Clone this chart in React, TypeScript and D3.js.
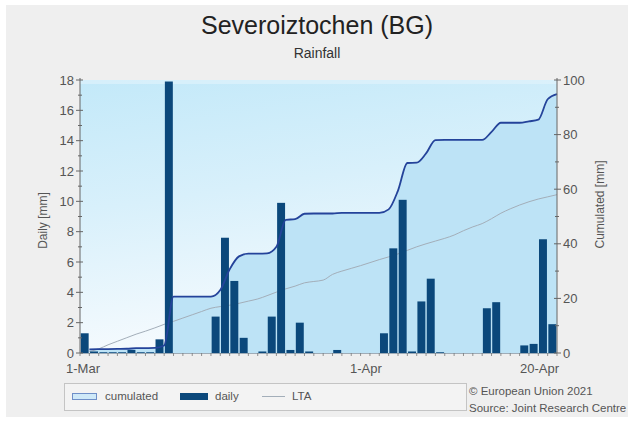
import React from "react";
import * as d3 from "d3";

// ---- data ----
const startDate = new Date(2021, 2, 1);
const endDate = new Date(2021, 3, 21);
const dates: Date[] = d3.timeDay.range(startDate, endDate); // 1-Mar .. 20-Apr (51 days)

const daily: number[] = [
  1.3, 0.1, 0.05, 0.05, 0.05, 0.2, 0.05, 0.05, 0.9, 17.9,
  0, 0, 0, 0, 2.4, 7.6, 4.75, 1.0, 0, 0.1,
  2.4, 9.9, 0.2, 2.0, 0.1, 0, 0, 0.2, 0, 0,
  0, 0, 1.3, 6.9, 10.1, 0.1, 3.4, 4.9, 0.05, 0,
  0, 0, 0, 2.95, 3.35, 0, 0, 0.5, 0.6, 7.5,
  1.9,
];

const lta: number[] = [
  0.5, 1.5, 3.0, 4.3, 5.6, 6.9, 8.0, 9.2, 10.5, 11.6,
  12.8, 14.0, 15.2, 16.4, 17.0, 17.5, 18.2, 19.0, 19.8, 21.0,
  22.3, 23.5, 24.5, 25.7, 26.2, 26.7, 28.8, 30.0, 31.0, 32.0,
  33.1, 34.2, 35.2, 36.3, 37.6, 38.9, 40.0, 41.0, 42.0, 43.2,
  44.8, 46.2, 47.4, 49.2, 51.2, 52.8, 54.2, 55.4, 56.4, 57.2,
  58.0,
];

const cumulated: number[] = Array.from(d3.cumsum(daily));

const leftTicks = [0, 2, 4, 6, 8, 10, 12, 14, 16, 18];
const rightTicks = [0, 20, 40, 60, 80, 100];
const xLabelDays = ["2021-03-01", "2021-04-01", "2021-04-20"];
const xLabelText = ["1-Mar", "1-Apr", "20-Apr"];

const title = "Severoiztochen (BG)";
const subtitle = "Rainfall";
const leftTitle = "Daily [mm]";
const rightTitle = "Cumulated [mm]";
const legendLabels = ["cumulated", "daily", "LTA"];
const credits = ["© European Union 2021", "Source: Joint Research Centre"];

// ---- layout ----
const W = 628;
const H = 421;
const PL = 80;
const PR = 557;
const PT = 80;
const PB = 353;
const FONT = "'Liberation Sans', Arial, sans-serif";

export default function App() {
  const n = dates.length;
  const x = d3.scaleLinear().domain([0, n]).range([PL, PR]);
  const yL = d3.scaleLinear().domain([0, 18]).range([PB, PT]);
  const yR = d3.scaleLinear().domain([0, 100]).range([PB, PT]);
  const dayIndex = (s: string) =>
    d3.timeDay.count(startDate, d3.timeParse("%Y-%m-%d")(s) as Date);

  const cumLine = d3
    .line<number>()
    .x((_, i) => x(i + 1))
    .y((d) => yR(d))
    .curve(d3.curveMonotoneX);
  const cumArea = d3
    .area<number>()
    .x((_, i) => x(i + 1))
    .y0(PB)
    .y1((d) => yR(d))
    .curve(d3.curveMonotoneX);
  const ltaLine = d3
    .line<number>()
    .x((_, i) => x(i + 1))
    .y((d) => yR(d))
    .curve(d3.curveMonotoneX);

  const gap = 0.7;
  const minorLeft = d3.range(1, 18, 2);
  const minorRight = d3.range(10, 100, 20);

  return (
    <svg
      width={W}
      height={H}
      style={{ position: "absolute", left: 0, top: 0, fontFamily: FONT }}
    >
      <defs>
        <linearGradient id="bg" x1="0" y1="0" x2="0.25" y2="1">
          <stop offset="0" stopColor="#c3e9f9" />
          <stop offset="0.45" stopColor="#d8f0fb" />
          <stop offset="1" stopColor="#f7fbfe" />
        </linearGradient>
      </defs>
      <rect x={0} y={0} width={W} height={H} fill="#ffffff" />
      <rect x={6} y={5} width={W - 6} height={H - 9} fill="#efefef" />

      <text x={317} y={34} textAnchor="middle" fontSize={25} fill="#222">
        {title}
      </text>
      <text x={317} y={58} textAnchor="middle" fontSize={14} fill="#333">
        {subtitle}
      </text>

      {/* plot background */}
      <rect x={PL} y={PT} width={PR - PL} height={PB - PT} fill="url(#bg)" />
      <rect x={PL} y={PT} width={PR - PL} height={4} fill="#e2f4fc" opacity={0.6} />
      <path d={cumArea(cumulated) || ""} fill="#bde3f6" />
      <path d={ltaLine(lta) || ""} fill="none" stroke="#a3aeb9" strokeWidth={1} />

      {daily.map((v, i) => (
        <rect
          key={i}
          x={x(i) + gap}
          y={yL(v)}
          width={x(i + 1) - x(i) - 2 * gap}
          height={PB - yL(v)}
          fill="#0b487b"
        />
      ))}

      <path
        d={cumLine(cumulated) || ""}
        fill="none"
        stroke="#24439a"
        strokeWidth={1.8}
      />

      {/* axes */}
      <line x1={PL} x2={PL} y1={PT - 2} y2={PB} stroke="#666" />
      <line x1={PR} x2={PR} y1={PT - 2} y2={PB} stroke="#666" />
      <line x1={PL} x2={PR} y1={PB + 0.5} y2={PB + 0.5} stroke="#8a9aa8" strokeWidth={0.8} />

      {leftTicks.map((t) => (
        <g key={"l" + t}>
          <line x1={PL - 4} x2={PL + 3} y1={yL(t)} y2={yL(t)} stroke="#666" />
          <text
            x={PL - 6}
            y={yL(t) + 4.5}
            textAnchor="end"
            fontSize={13}
            fill="#555"
          >
            {t}
          </text>
        </g>
      ))}
      {minorLeft.map((t) => (
        <line key={"lm" + t} x1={PL - 2} x2={PL + 2} y1={yL(t)} y2={yL(t)} stroke="#666" />
      ))}
      {rightTicks.map((t) => (
        <g key={"r" + t}>
          <line x1={PR - 3} x2={PR + 4} y1={yR(t)} y2={yR(t)} stroke="#666" />
          <text x={PR + 6} y={yR(t) + 4.5} textAnchor="start" fontSize={13} fill="#555">
            {t}
          </text>
        </g>
      ))}
      {minorRight.map((t) => (
        <line key={"rm" + t} x1={PR - 2} x2={PR + 2} y1={yR(t)} y2={yR(t)} stroke="#666" />
      ))}
      {d3.range(0, n + 1).map((i) => (
        <line key={"xt" + i} x1={x(i)} x2={x(i)} y1={PB} y2={PB + 3} stroke="#777" strokeWidth={0.8} />
      ))}
      {xLabelDays.map((s, k) => {
        const di = dayIndex(s);
        const last = k === xLabelDays.length - 1;
        return (
          <text
            key={s}
            x={last ? PR + 2 : x(di) + (k === 0 ? 3 : -4)}
            y={373}
            textAnchor={last ? "end" : "middle"}
            fontSize={13}
            fill="#555"
          >
            {xLabelText[k]}
          </text>
        );
      })}

      <text
        transform={`translate(47,${(PT + PB) / 2 + 4}) rotate(-90)`}
        textAnchor="middle"
        fontSize={12}
        fill="#555"
      >
        {leftTitle}
      </text>
      <text
        transform={`translate(604,${(PT + PB) / 2 - 12}) rotate(-90)`}
        textAnchor="middle"
        fontSize={12}
        fill="#555"
      >
        {rightTitle}
      </text>

      {/* legend */}
      <rect x={64.5} y={383.5} width={402} height={27} fill="#f3f3f3" stroke="#c4c4c4" />
      <rect x={72.5} y={393.5} width={24} height={6} fill="#cfe9f8" stroke="#6f8fc8" />
      <text x={105} y={400} fontSize={11.5} fill="#555">
        {legendLabels[0]}
      </text>
      <rect x={180} y={393} width={28} height={7} fill="#0b487b" />
      <text x={215} y={400} fontSize={11.5} fill="#555">
        {legendLabels[1]}
      </text>
      <line x1={262} x2={285} y1={396.5} y2={396.5} stroke="#a3aeb9" />
      <text x={292} y={400} fontSize={11.5} fill="#555">
        {legendLabels[2]}
      </text>

      <text x={469} y={395} fontSize={11.5} fill="#555">
        {credits[0]}
      </text>
      <text x={469} y={412} fontSize={11.5} fill="#555">
        {credits[1]}
      </text>
    </svg>
  );
}
